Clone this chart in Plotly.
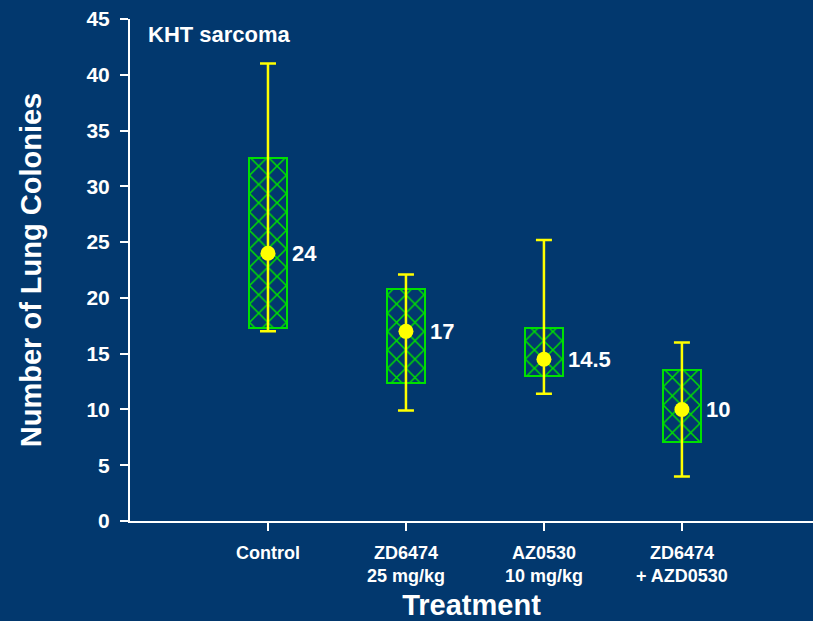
import plotly.graph_objects as go

# Lung colony counts per treatment group (KHT sarcoma)
treatments = ["Control", "ZD6474<br>25 mg/kg", "AZ0530<br>10 mg/kg", "ZD6474<br>+ AZD0530"]
means = [24, 17, 14.5, 10]
q1 = [17.3, 12.4, 13.0, 7.1]
q3 = [32.5, 20.8, 17.3, 13.5]
lows = [17.0, 9.9, 11.4, 4.0]
highs = [41.0, 22.1, 25.2, 16.0]
mean_labels = ["24", "17", "14.5", "10"]

BG = "#02386E"
GREEN = "#00E000"
YELLOW = "#FFFF00"
FONT = "Liberation Sans, Arial, sans-serif"

xpos = list(range(len(treatments)))

fig = go.Figure()

# Interquartile boxes with cross-hatch fill
fig.add_trace(go.Bar(
    x=xpos,
    y=[b - a for a, b in zip(q1, q3)],
    base=q1,
    width=0.275,
    marker=dict(
        color=BG,
        line=dict(color=GREEN, width=2),
        pattern=dict(shape="x", fgcolor=GREEN, bgcolor=BG, fgopacity=1,
                     size=13, solidity=0.22),
    ),
    showlegend=False,
    hoverinfo="skip",
))

# Range whiskers and mean markers
fig.add_trace(go.Scatter(
    x=xpos,
    y=means,
    mode="markers",
    marker=dict(color=YELLOW, size=15),
    error_y=dict(
        type="data",
        symmetric=False,
        array=[h - m for h, m in zip(highs, means)],
        arrayminus=[m - l for m, l in zip(means, lows)],
        color=YELLOW,
        thickness=2.5,
        width=8,
    ),
    showlegend=False,
))

for x, m, lab in zip(xpos, means, mean_labels):
    fig.add_annotation(
        x=x, y=m, text=lab, showarrow=False,
        xanchor="left", yanchor="middle", xshift=22,
        font=dict(family=FONT, size=22, color="white", weight="bold"),
    )

fig.add_annotation(
    xref="paper", yref="paper", x=0.024, y=0.998, text="KHT sarcoma",
    showarrow=False, xanchor="left", yanchor="top",
    font=dict(family=FONT, size=22, color="white", weight="bold"),
)

fig.update_layout(
    width=813, height=621,
    paper_bgcolor=BG, plot_bgcolor=BG,
    margin=dict(l=130, r=0, t=19, b=100),
    bargap=0,
    xaxis=dict(
        range=[-1, 3.95],
        tickmode="array", tickvals=xpos, ticktext=treatments,
        ticks="outside", ticklen=8, tickwidth=2, tickcolor="white",
        ticklabelstandoff=6,
        showline=True, linecolor="white", linewidth=2,
        showgrid=False, zeroline=False,
        tickfont=dict(family=FONT, size=18, color="white", weight="bold"),
        title=dict(text="Treatment", standoff=10,
                   font=dict(family=FONT, size=29, color="white", weight="bold")),
    ),
    yaxis=dict(
        range=[0, 45],
        tickmode="array", tickvals=list(range(0, 46, 5)),
        ticks="outside", ticklen=8, tickwidth=2, tickcolor="white",
        ticklabelstandoff=6,
        showline=True, linecolor="white", linewidth=2,
        showgrid=False, zeroline=False,
        tickfont=dict(family=FONT, size=21, color="white", weight="bold"),
        title=dict(text="Number of Lung Colonies", standoff=36,
                   font=dict(family=FONT, size=29, color="white", weight="bold")),
    ),
)

fig.write_html("out.html")
